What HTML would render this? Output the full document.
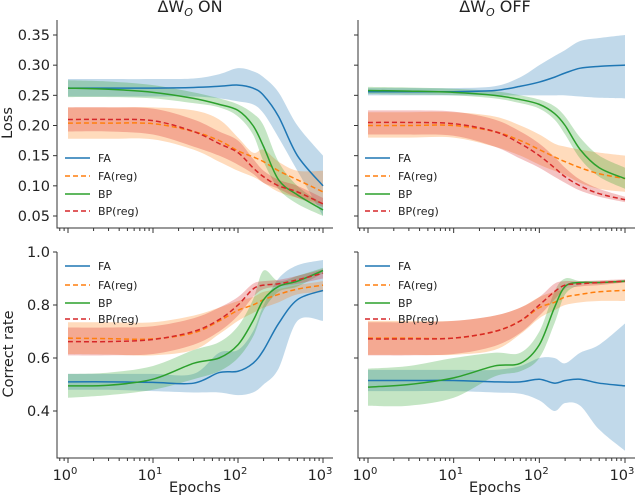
<!DOCTYPE html>
<html><head><meta charset="utf-8"><style>
body{margin:0;background:#fff}
svg{display:block;font-family:"DejaVu Sans","Liberation Sans",sans-serif}
</style></head><body>
<svg id="c" width="640" height="498" viewBox="0 0 640 498"></svg>
<script>
const epochs=[1,3,10,30,60,100,150,200,300,500,1000];
const seriesNames=["FA","FA(reg)","BP","BP(reg)"];
// loss ON
const lossOnFA=[0.262,0.262,0.262,0.263,0.265,0.267,0.262,0.25,0.215,0.15,0.10];
const lossOnFALo=[0.248,0.248,0.248,0.248,0.245,0.24,0.235,0.22,0.18,0.125,0.05];
const lossOnFAHi=[0.277,0.277,0.277,0.278,0.285,0.295,0.29,0.28,0.255,0.2,0.15];
const lossOnFAr=[0.204,0.204,0.203,0.19,0.175,0.158,0.148,0.14,0.125,0.11,0.09];
const lossOnFArLo=[0.178,0.178,0.177,0.16,0.14,0.125,0.115,0.105,0.09,0.08,0.07];
const lossOnFArHi=[0.23,0.23,0.23,0.225,0.21,0.18,0.155,0.16,0.14,0.125,0.125];
const lossOnBP=[0.262,0.26,0.255,0.245,0.235,0.225,0.2,0.165,0.11,0.085,0.06];
const lossOnBPLo=[0.247,0.247,0.245,0.237,0.23,0.215,0.185,0.14,0.095,0.07,0.05];
const lossOnBPHi=[0.275,0.273,0.267,0.255,0.245,0.235,0.22,0.2,0.14,0.1,0.07];
const lossOnBPr=[0.21,0.21,0.208,0.19,0.17,0.155,0.13,0.115,0.1,0.09,0.07];
const lossOnBPrLo=[0.19,0.19,0.185,0.165,0.15,0.135,0.12,0.105,0.095,0.08,0.065];
const lossOnBPrHi=[0.23,0.23,0.228,0.21,0.19,0.175,0.145,0.125,0.11,0.1,0.08];
// loss OFF
const lossOffFA=[0.256,0.256,0.256,0.258,0.265,0.272,0.28,0.287,0.295,0.298,0.30];
const lossOffFALo=[0.25,0.25,0.25,0.25,0.25,0.25,0.25,0.25,0.248,0.246,0.245];
const lossOffFAHi=[0.262,0.262,0.262,0.265,0.28,0.3,0.315,0.325,0.34,0.345,0.35];
const lossOffFAr=[0.2,0.2,0.2,0.19,0.175,0.16,0.148,0.14,0.13,0.12,0.112];
const lossOffFArLo=[0.18,0.18,0.18,0.165,0.15,0.135,0.125,0.118,0.105,0.095,0.09];
const lossOffFArHi=[0.222,0.222,0.222,0.215,0.2,0.185,0.17,0.165,0.16,0.155,0.15];
const lossOffBP=[0.258,0.257,0.255,0.25,0.243,0.235,0.22,0.2,0.16,0.13,0.112];
const lossOffBPLo=[0.252,0.251,0.25,0.245,0.237,0.228,0.21,0.185,0.145,0.115,0.095];
const lossOffBPHi=[0.264,0.263,0.261,0.257,0.25,0.243,0.232,0.215,0.18,0.15,0.13];
const lossOffBPr=[0.205,0.205,0.203,0.19,0.17,0.15,0.13,0.115,0.1,0.087,0.077];
const lossOffBPrLo=[0.185,0.185,0.183,0.165,0.145,0.13,0.115,0.105,0.092,0.082,0.073];
const lossOffBPrHi=[0.225,0.225,0.223,0.21,0.19,0.17,0.148,0.13,0.11,0.095,0.082];
// correct ON
const accOnFA=[0.51,0.51,0.508,0.505,0.545,0.55,0.58,0.63,0.73,0.82,0.855];
const accOnFALo=[0.48,0.48,0.475,0.47,0.47,0.46,0.47,0.5,0.56,0.74,0.74];
const accOnFAHi=[0.54,0.54,0.54,0.54,0.62,0.63,0.7,0.8,0.9,0.95,0.97];
const accOnFAr=[0.675,0.673,0.672,0.695,0.74,0.78,0.8,0.82,0.84,0.86,0.875];
const accOnFArLo=[0.615,0.613,0.61,0.63,0.69,0.74,0.77,0.79,0.81,0.84,0.85];
const accOnFArHi=[0.735,0.735,0.735,0.76,0.79,0.815,0.83,0.85,0.86,0.875,0.89];
const accOnBP=[0.495,0.497,0.52,0.58,0.6,0.65,0.74,0.82,0.87,0.89,0.93];
const accOnBPLo=[0.45,0.46,0.48,0.52,0.55,0.6,0.68,0.78,0.85,0.87,0.92];
const accOnBPHi=[0.54,0.545,0.57,0.63,0.66,0.72,0.82,0.93,0.89,0.91,0.94];
const accOnBPr=[0.662,0.662,0.67,0.7,0.745,0.8,0.86,0.875,0.88,0.895,0.92];
const accOnBPrLo=[0.61,0.61,0.615,0.65,0.7,0.76,0.83,0.86,0.87,0.88,0.9];
const accOnBPrHi=[0.715,0.715,0.72,0.75,0.79,0.83,0.88,0.89,0.895,0.91,0.935];
// correct OFF
const accOffFA=[0.515,0.515,0.515,0.51,0.51,0.52,0.505,0.515,0.52,0.505,0.495];
const accOffFALo=[0.475,0.475,0.475,0.47,0.465,0.44,0.4,0.43,0.42,0.33,0.25];
const accOffFAHi=[0.555,0.555,0.555,0.555,0.57,0.6,0.6,0.58,0.62,0.65,0.73];
const accOffFAr=[0.675,0.675,0.675,0.7,0.74,0.79,0.81,0.83,0.84,0.85,0.855];
const accOffFArLo=[0.612,0.612,0.612,0.63,0.69,0.75,0.78,0.8,0.81,0.815,0.815];
const accOffFArHi=[0.74,0.74,0.74,0.76,0.79,0.83,0.85,0.86,0.875,0.885,0.89];
const accOffBP=[0.49,0.5,0.525,0.57,0.58,0.65,0.79,0.87,0.885,0.885,0.89];
const accOffBPLo=[0.42,0.42,0.45,0.53,0.55,0.6,0.73,0.84,0.875,0.88,0.885];
const accOffBPHi=[0.56,0.57,0.6,0.62,0.62,0.7,0.85,0.9,0.89,0.89,0.895];
const accOffBPr=[0.672,0.672,0.675,0.7,0.74,0.8,0.85,0.875,0.88,0.885,0.89];
const accOffBPrLo=[0.61,0.61,0.615,0.645,0.695,0.76,0.82,0.86,0.87,0.875,0.885];
const accOffBPrHi=[0.735,0.735,0.74,0.76,0.79,0.83,0.88,0.89,0.89,0.893,0.897];
const lossTicks=[0.05,0.10,0.15,0.20,0.25,0.30,0.35];
const accTicks=[0.4,0.6,0.8,1.0];
const xTickLabels=["0","1","2","3"];

const NS="http://www.w3.org/2000/svg";
const svg=document.getElementById('c');
const colors=["#1f77b4","#ff7f0e","#2ca02c","#d62728"];
const dashes=[null,"5,3",null,"5,3"];
function mk(tag,attrs,parent){const e=document.createElementNS(NS,tag);for(const k in attrs)e.setAttribute(k,attrs[k]);(parent||svg).appendChild(e);return e;}
// smooth path through points (Catmull-Rom -> Bezier)
function smooth(pts,start){
  let d=(start?'M':'L')+pts[0][0].toFixed(2)+','+pts[0][1].toFixed(2);
  for(let i=0;i<pts.length-1;i++){
    const p0=pts[Math.max(0,i-1)],p1=pts[i],p2=pts[i+1],p3=pts[Math.min(pts.length-1,i+2)];
    const c1=[p1[0]+(p2[0]-p0[0])/6,p1[1]+(p2[1]-p0[1])/6];
    const c2=[p2[0]-(p3[0]-p1[0])/6,p2[1]-(p3[1]-p1[1])/6];
    d+=`C${c1[0].toFixed(2)},${c1[1].toFixed(2)} ${c2[0].toFixed(2)},${c2[1].toFixed(2)} ${p2[0].toFixed(2)},${p2[1].toFixed(2)}`;
  }
  return d;
}

function panel(p){
  const g=mk('g',{});
  
  
  const xs=v=>p.x0+(Math.log10(v))/3*(p.x1-p.x0);
  const ys=v=>p.yA+(v-p.vA)*(p.yB-p.yA)/(p.vB-p.vA);
  p.series.forEach((s,i)=>{
    const up=epochs.map((e,j)=>[xs(e),ys(s.hi[j])]);
    const dn=epochs.map((e,j)=>[xs(e),ys(s.lo[j])]).reverse();
    const d=smooth(up,true)+smooth(dn,false)+'Z';
    const b=mk('path',{d:d,fill:colors[i],'fill-opacity':0.28,stroke:'none'},g);
    
    
  });
  p.series.forEach((s,i)=>{
    const l=mk('path',{d:smooth(epochs.map((e,j)=>[xs(e),ys(s.m[j])]),true),fill:'none',stroke:colors[i],'stroke-width':1.5},g);
    if(dashes[i])l.setAttribute('stroke-dasharray',dashes[i]);
    
    
  });
  const sp=mk('path',{d:`M${p.sx},${p.top}V${p.bot}H${p.x1+10}`,stroke:'#333',fill:'none','stroke-width':1},g);
  
  
  p.ticks.forEach(t=>{
    mk('line',{x1:p.sx-4,x2:p.sx,y1:ys(t),y2:ys(t),stroke:'#333'},g);
    if(p.ylabels){const tx=mk('text',{x:p.sx-7,y:ys(t)+5,'text-anchor':'end','font-size':14.5,fill:'#222'},g);tx.textContent=p.fmt(t);
      
      }
  });
  for(let k=0;k<=3;k++){
    const x=xs(Math.pow(10,k));
    mk('line',{x1:x,x2:x,y1:p.bot,y2:p.bot+5,stroke:'#333'},g);
    if(k<3)for(let m=2;m<=9;m++){const xm=xs(m*Math.pow(10,k));mk('line',{x1:xm,x2:xm,y1:p.bot,y2:p.bot+3,stroke:'#333'},g);}
    if(p.xlabels){const tx=mk('text',{x:x-3,y:p.bot+22,'text-anchor':'middle','font-size':14.5,fill:'#222'},g);
      tx.textContent='10';const ts=mk('tspan',{dy:-6,'font-size':10},tx);ts.textContent=xTickLabels[k];
      
      }
  }
  for(const m of [0.6,0.7,0.8,0.9]){const xm=xs(m);if(xm>p.sx)mk('line',{x1:xm,x2:xm,y1:p.bot,y2:p.bot+3,stroke:'#333'},g);}
  const lg=mk('g',{},g);
  
  
  seriesNames.forEach((n,i)=>{
    const y=p.legY[i];
    const l=mk('line',{x1:p.legX,x2:p.legX+25,y1:y,y2:y,stroke:colors[i],'stroke-width':1.5},lg);
    if(dashes[i])l.setAttribute('stroke-dasharray',dashes[i]);
    const t=mk('text',{x:p.legX+33,y:y+4,'font-size':11,fill:'#222'},lg);t.textContent=n;
    
    
  });
}
function S(m,lo,hi){return {m,lo,hi};}
const topLegY=[158,176,194,211], botLegY=[266,285,303,319];
const lossCfg={top:20,bot:228,vA:0.35,yA:35,vB:0.05,yB:216,ticks:lossTicks,fmt:t=>t.toFixed(2),xlabels:false,legY:topLegY};
const accCfg={top:252,bot:458,vA:1.0,yA:252,vB:0.4,yB:411,ticks:accTicks,fmt:t=>t.toFixed(1),xlabels:true,legY:botLegY};
panel(Object.assign({},lossCfg,{name:'loss-on-panel',sx:57,x0:68,x1:323,ylabels:true,legX:65,
  series:[S(lossOnFA,lossOnFALo,lossOnFAHi),S(lossOnFAr,lossOnFArLo,lossOnFArHi),S(lossOnBP,lossOnBPLo,lossOnBPHi),S(lossOnBPr,lossOnBPrLo,lossOnBPrHi)]}));
panel(Object.assign({},lossCfg,{name:'loss-off-panel',sx:358,x0:368,x1:625,ylabels:false,legX:365,
  series:[S(lossOffFA,lossOffFALo,lossOffFAHi),S(lossOffFAr,lossOffFArLo,lossOffFArHi),S(lossOffBP,lossOffBPLo,lossOffBPHi),S(lossOffBPr,lossOffBPrLo,lossOffBPrHi)]}));
panel(Object.assign({},accCfg,{name:'correct-on-panel',sx:57,x0:68,x1:323,ylabels:true,legX:65,
  series:[S(accOnFA,accOnFALo,accOnFAHi),S(accOnFAr,accOnFArLo,accOnFArHi),S(accOnBP,accOnBPLo,accOnBPHi),S(accOnBPr,accOnBPrLo,accOnBPrHi)]}));
panel(Object.assign({},accCfg,{name:'correct-off-panel',sx:358,x0:368,x1:625,ylabels:false,legX:365,
  series:[S(accOffFA,accOffFALo,accOffFAHi),S(accOffFAr,accOffFArLo,accOffFArHi),S(accOffBP,accOffBPLo,accOffBPHi),S(accOffBPr,accOffBPrLo,accOffBPrHi)]}));
</script>
<div style="position:absolute;left:0;top:0;width:640px;height:498px;pointer-events:none;font-family:'DejaVu Sans','Liberation Sans',sans-serif;color:#222">
  <div style="position:absolute;left:135px;top:-3px;width:110px;text-align:center;font-size:16px">ΔW<sub style="font-size:11px;font-style:italic">O</sub> ON</div>
  <div style="position:absolute;left:435px;top:-3px;width:120px;text-align:center;font-size:16px">ΔW<sub style="font-size:11px;font-style:italic">O</sub> OFF</div>
  <div style="position:absolute;left:-12px;top:115px;width:40px;text-align:center;transform:rotate(-90deg);font-size:14.5px">Loss</div>
  <div style="position:absolute;left:-36px;top:346px;width:90px;text-align:center;transform:rotate(-90deg);font-size:14.5px">Correct rate</div>
  <div style="position:absolute;left:155px;top:480px;width:80px;text-align:center;font-size:14.5px">Epochs</div>
  <div style="position:absolute;left:455px;top:480px;width:80px;text-align:center;font-size:14.5px">Epochs</div>
</div>
</body></html>
